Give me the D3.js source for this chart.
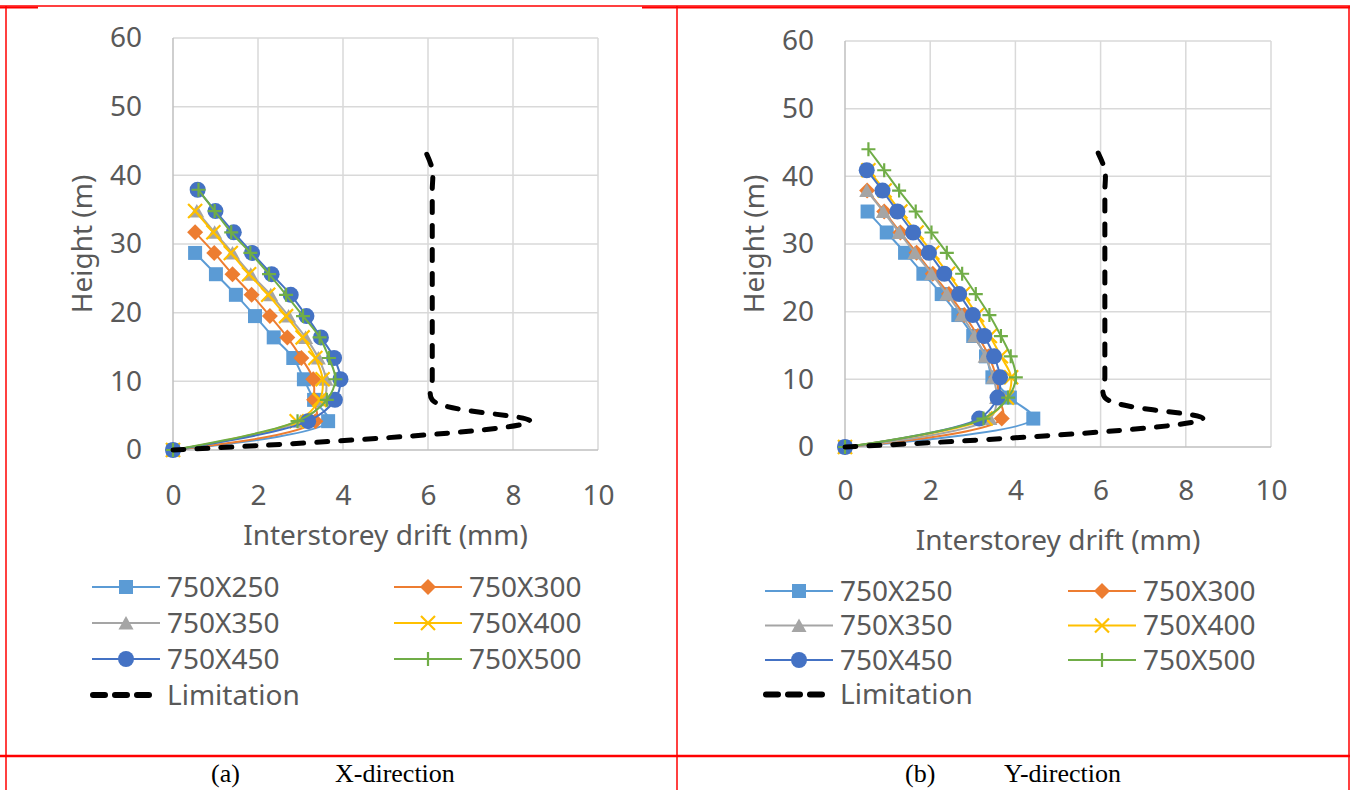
<!DOCTYPE html>
<html>
<head>
<meta charset="utf-8">
<script src="https://cdn.jsdelivr.net/npm/d3@7"></script>
<style>
  body { margin: 0; background: #fff; }
</style>
</head>
<body>
<script>
// storey heights (m), shared by every series
var heights = [0, 4.2, 7.3, 10.3, 13.4, 16.4, 19.5, 22.6, 25.6, 28.7, 31.7, 34.8, 37.9, 40.9, 44.0];

var seriesNames = ["750X250", "750X300", "750X350", "750X400", "750X450", "750X500"];
var seriesColors = ["#5B9BD5", "#ED7D31", "#A5A5A5", "#FFC000", "#4472C4", "#70AD47"];
var seriesMarkers = ["square", "diamond", "triangle", "x", "circle", "plus"];

// X-direction drift (mm), from ground up
var xDir250 = [0, 3.65, 3.32, 3.08, 2.83, 2.37, 1.93, 1.48, 1.01, 0.52];
var xDir300 = [0, 3.35, 3.32, 3.30, 3.02, 2.69, 2.28, 1.85, 1.40, 0.97, 0.52];
var xDir350 = [0, 3.00, 3.55, 3.60, 3.42, 3.12, 2.72, 2.30, 1.83, 1.40, 0.98, 0.56];
var xDir400 = [0, 2.91, 3.45, 3.52, 3.35, 3.05, 2.66, 2.24, 1.79, 1.36, 0.95, 0.52];
var xDir450 = [0, 3.18, 3.81, 3.94, 3.79, 3.48, 3.14, 2.77, 2.32, 1.86, 1.43, 1.00, 0.58];
var xDir500 = [0, 2.93, 3.62, 3.82, 3.67, 3.45, 3.06, 2.66, 2.26, 1.82, 1.37, 0.98, 0.60];

// Y-direction drift (mm)
var yDir250 = [0, 4.42, 3.87, 3.46, 3.31, 3.01, 2.66, 2.27, 1.84, 1.41, 0.98, 0.53];
var yDir300 = [0, 3.68, 3.62, 3.55, 3.38, 3.12, 2.80, 2.44, 2.06, 1.68, 1.30, 0.92, 0.52];
var yDir350 = [0, 3.40, 3.56, 3.48, 3.29, 3.04, 2.74, 2.39, 2.03, 1.64, 1.27, 0.90, 0.51];
var yDir400 = [0, 3.30, 3.80, 3.90, 3.66, 3.40, 3.10, 2.77, 2.42, 2.05, 1.68, 1.30, 0.93, 0.55];
var yDir450 = [0, 3.15, 3.58, 3.64, 3.50, 3.27, 3.00, 2.68, 2.33, 1.97, 1.60, 1.23, 0.88, 0.51];
var yDir500 = [0, 3.25, 3.83, 4.01, 3.89, 3.66, 3.39, 3.07, 2.75, 2.39, 2.03, 1.66, 1.27, 0.92, 0.55];

// allowed drift (mm)
var limitation = [0, 8.4, 6.1, 6.1, 6.1, 6.1, 6.1, 6.1, 6.1, 6.1, 6.1, 6.1, 6.1, 6.1, 5.9];

var xTicks = [0, 2, 4, 6, 8, 10];
var yTicks = [0, 10, 20, 30, 40, 50, 60];

var sans = "'Segoe UI','Noto Sans',sans-serif";
var serif = "'Times New Roman','Liberation Serif',serif";

var svg = d3.select("body").append("svg")
  .attr("width", 1350).attr("height", 790);
svg.append("rect").attr("width", 1350).attr("height", 790).attr("fill", "#fff");

// marker path, centred on 0,0
function markerPath(kind) {
  if (kind == "square") return "M-7,-7H7V7H-7Z";
  if (kind == "diamond") return "M0,-8L8,0L0,8L-8,0Z";
  if (kind == "triangle") return "M0,-7L7.5,6.5H-7.5Z";
  if (kind == "circle") return "M-8,0A8,8 0 1,0 8,0A8,8 0 1,0 -8,0";
  if (kind == "x") return "M-7,-7L7,7M7,-7L-7,7";
  return "M-7,0H7M0,-7V7";
}

function drawMarker(g, kind, color, cx, cy) {
  var stroked = (kind == "x" || kind == "plus");
  g.append("path")
    .attr("d", markerPath(kind))
    .attr("transform", "translate(" + cx + "," + cy + ")")
    .attr("fill", stroked ? "none" : color)
    .attr("stroke", color)
    .attr("stroke-width", stroked ? 2.2 : 0);
}

function panel(opt) {
  var x = d3.scaleLinear().domain([0, 10]).range([opt.left, opt.right]);
  var y = d3.scaleLinear().domain([0, 60]).range([opt.bottom, opt.top]);
  var g = svg.append("g").style("font-family", sans);

  // grid
  g.selectAll(".hg").data(yTicks.slice(1)).enter().append("line")
    .attr("x1", x(0)).attr("x2", x(10))
    .attr("y1", function(d){ return y(d); }).attr("y2", function(d){ return y(d); })
    .attr("stroke", "#D9D9D9").attr("stroke-width", 1.5);
  g.selectAll(".vg").data(xTicks.slice(1)).enter().append("line")
    .attr("y1", y(0)).attr("y2", y(60))
    .attr("x1", function(d){ return x(d); }).attr("x2", function(d){ return x(d); })
    .attr("stroke", "#D9D9D9").attr("stroke-width", 1.5);
  g.append("line").attr("x1", x(0)).attr("x2", x(10)).attr("y1", y(0)).attr("y2", y(0))
    .attr("stroke", "#BFBFBF").attr("stroke-width", 1.5);
  g.append("line").attr("x1", x(0)).attr("x2", x(0)).attr("y1", y(0)).attr("y2", y(60))
    .attr("stroke", "#BFBFBF").attr("stroke-width", 1.5);

  // axes
  var ax = g.append("g").attr("transform", "translate(0," + y(0) + ")")
    .call(d3.axisBottom(x).tickValues(xTicks).tickSize(0).tickPadding(opt.xPad));
  var ay = g.append("g").attr("transform", "translate(" + x(0) + ",0)")
    .call(d3.axisLeft(y).tickValues(yTicks).tickSize(0).tickPadding(31));
  [ax, ay].forEach(function(a) {
    a.select(".domain").remove();
    a.attr("font-family", null).attr("font-size", null);
    a.selectAll("text").attr("font-size", 28).attr("fill", "#595959");
  });

  g.append("text").attr("x", (x(0) + x(10)) / 2).attr("y", opt.xTitleY)
    .attr("text-anchor", "middle").attr("font-size", 28).attr("fill", "#595959")
    .text("Interstorey drift (mm)");
  g.append("text").attr("transform", "translate(" + opt.yTitleX + "," + (y(0) + y(60)) / 2 + ") rotate(-90)")
    .attr("text-anchor", "middle").attr("font-size", 28).attr("fill", "#595959")
    .text("Height (m)");

  var line = d3.line()
    .x(function(d){ return x(d[0]); })
    .y(function(d){ return y(d[1]); })
    .curve(d3.curveCatmullRom.alpha(0.5));

  opt.series.forEach(function(vals, i) {
    var pts = vals.map(function(v, k){ return [v, heights[k]]; });
    g.append("path").datum(pts).attr("d", line)
      .attr("fill", "none").attr("stroke", seriesColors[i]).attr("stroke-width", 2);
    pts.forEach(function(p) {
      drawMarker(g, seriesMarkers[i], seriesColors[i], x(p[0]), y(p[1]));
    });
  });

  var limPts = limitation.map(function(v, k){ return [v, heights[k]]; });
  g.append("path").datum(limPts).attr("d", line)
    .attr("fill", "none").attr("stroke", "#000").attr("stroke-width", 5)
    .attr("stroke-dasharray", "11,13").attr("stroke-linecap", "round");

  // legend
  seriesNames.forEach(function(name, i) {
    var col = i % 2, row = Math.floor(i / 2);
    var lx = opt.legX + col * opt.legColGap;
    var ly = opt.legY + row * opt.legRowGap;
    g.append("line").attr("x1", lx).attr("x2", lx + 68).attr("y1", ly).attr("y2", ly)
      .attr("stroke", seriesColors[i]).attr("stroke-width", 2);
    drawMarker(g, seriesMarkers[i], seriesColors[i], lx + 34, ly);
    g.append("text").attr("x", lx + 75).attr("y", ly).attr("dy", "0.35em")
      .attr("font-size", 28).attr("fill", "#595959").text(name);
  });
  var ly = opt.legY + 3 * opt.legRowGap;
  g.append("line").attr("x1", opt.legX + 1).attr("x2", opt.legX + 59).attr("y1", ly).attr("y2", ly)
    .attr("stroke", "#000").attr("stroke-width", 6)
    .attr("stroke-dasharray", "12,10").attr("stroke-linecap", "round");
  g.append("text").attr("x", opt.legX + 75).attr("y", ly).attr("dy", "0.35em")
    .attr("font-size", 28).attr("fill", "#595959").text("Limitation");
}

panel({ left: 173, right: 598, top: 38, bottom: 450, xPad: 35, xTitleY: 545, yTitleX: 92,
  legX: 92, legY: 587, legColGap: 302, legRowGap: 36,
  series: [xDir250, xDir300, xDir350, xDir400, xDir450, xDir500] });
panel({ left: 845, right: 1271, top: 41, bottom: 447, xPad: 33, xTitleY: 550, yTitleX: 764,
  legX: 765, legY: 591, legColGap: 303, legRowGap: 34.5,
  series: [yDir250, yDir300, yDir350, yDir400, yDir450, yDir500] });

// table borders
var red = "#FF0000";
[[0, 6, 1350, 6, 1.5], [0, 7.5, 38, 7.5, 2], [642, 7.5, 1350, 7.5, 2], [0, 756, 1350, 756, 2.5],
 [6, 6, 6, 790, 1.5], [677, 6, 677, 790, 1.5], [1349, 6, 1349, 790, 1.5]].forEach(function(l) {
  svg.append("line").attr("x1", l[0]).attr("y1", l[1]).attr("x2", l[2]).attr("y2", l[3])
    .attr("stroke", red).attr("stroke-width", l[4]);
});

// captions
var captions = [["(a)", 211, "X-direction", 335], ["(b)", 905, "Y-direction", 1004]];
captions.forEach(function(c) {
  svg.append("text").attr("x", c[1]).attr("y", 782).attr("font-size", 26)
    .style("font-family", serif).attr("fill", "#000").text(c[0]);
  svg.append("text").attr("x", c[3]).attr("y", 782).attr("font-size", 26)
    .style("font-family", serif).attr("fill", "#000").text(c[2]);
});
</script>
</body>
</html>
